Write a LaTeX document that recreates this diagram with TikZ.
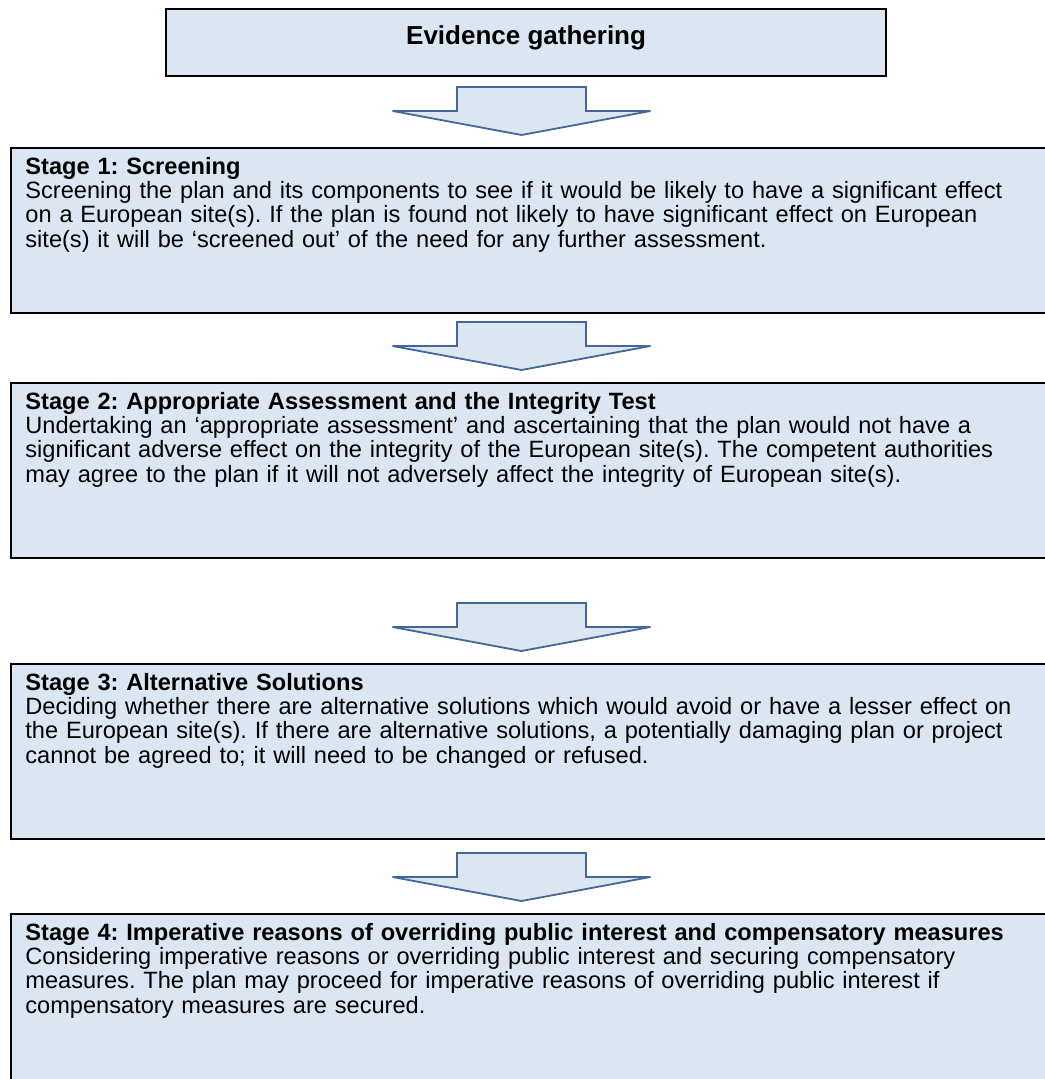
\documentclass[tikz,border=0pt]{standalone}
\usepackage{fontspec}
\setmainfont{Liberation Sans}
\usetikzlibrary{calc}
\usetikzlibrary{positioning}

\definecolor{boxblue}{RGB}{220,230,242}
\definecolor{arrowblue}{RGB}{68,102,152}

\tikzset{
  stagebox/.style={draw=black, line width=1.1pt, fill=boxblue, anchor=north west,
    inner sep=0pt, minimum width=520pt},
  stagetext/.style={anchor=north west, inner sep=0pt, text width=515pt, align=left,
    font=\fontsize{11.8}{12.1}\selectfont},
  arrowline/.style={draw=arrowblue, line width=0.9pt, fill=boxblue, line join=miter},
  pics/downarrow/.style={code={
    \draw[arrowline] (-64.5,0) -- (64.5,0) -- (64.5,24) -- (129,24) -- (0,48)
      -- (-129,24) -- (-64.5,24) -- cycle;
  }}
}

\begin{document}
\frenchspacing
\begin{tikzpicture}[x=0.5pt, y=-0.5pt]

\useasboundingbox (0,0) rectangle (1044,1079);

\newcommand{\gapX}{7.5pt}   % 文字左边距
\newcommand{\gapY}{5pt}     % 文字上边距

% 方框
\node[stagebox, minimum width=360pt, minimum height=33.5pt, text height=9.5pt, text depth=7.5pt,
  font=\fontsize{13}{14}\selectfont\bfseries] (evid) at (165,8) {Evidence gathering};

\node[stagebox, minimum height=82.5pt] (stageA) at (10,147) {};
\node[stagebox, minimum height=87.5pt] (stageB) at (10,382) {};
\node[stagebox, minimum height=87.5pt] (stageC) at (10,663) {};
\node[stagebox, minimum height=90pt] (stageD) at (10,913) {};

% 文字
\node[stagetext, below right=\gapY and \gapX of stageA.north west] (stageAtext) {%
\textbf{Stage 1: Screening}\\
Screening the plan and its components to see if it would be likely to have a significant effect\\
on a European site(s). If the plan is found not likely to have significant effect on European\\
site(s) it will be ‘screened out’ of the need for any further assessment.};

\node[stagetext, below right=\gapY and \gapX of stageB.north west] (stageBtext) {%
\textbf{Stage 2: Appropriate Assessment and the Integrity Test}\\
Undertaking an ‘appropriate assessment’ and ascertaining that the plan would not have a\\
significant adverse effect on the integrity of the European site(s). The competent authorities\\
may agree to the plan if it will not adversely affect the integrity of European site(s).};

\node[stagetext, below right=\gapY and \gapX of stageC.north west] (stageCtext) {%
\textbf{Stage 3: Alternative Solutions}\\
Deciding whether there are alternative solutions which would avoid or have a lesser effect on\\
the European site(s). If there are alternative solutions, a potentially damaging plan or project\\
cannot be agreed to; it will need to be changed or refused.};

\node[stagetext, below right=\gapY and \gapX of stageD.north west] (stageDtext) {%
\textbf{Stage 4: Imperative reasons of overriding public interest and compensatory measures}\\
Considering imperative reasons or overriding public interest and securing compensatory\\
measures. The plan may proceed for imperative reasons of overriding public interest if\\
compensatory measures are secured.};

% 箭头
\pic at ($(stageA.north west)+(511.5,-60)$) {downarrow};
\pic at ($(stageB.north west)+(511.5,-60)$) {downarrow};
\pic at ($(stageC.north west)+(511.5,-60)$) {downarrow};
\pic at ($(stageD.north west)+(511.5,-60)$) {downarrow};

\end{tikzpicture}
\end{document}
